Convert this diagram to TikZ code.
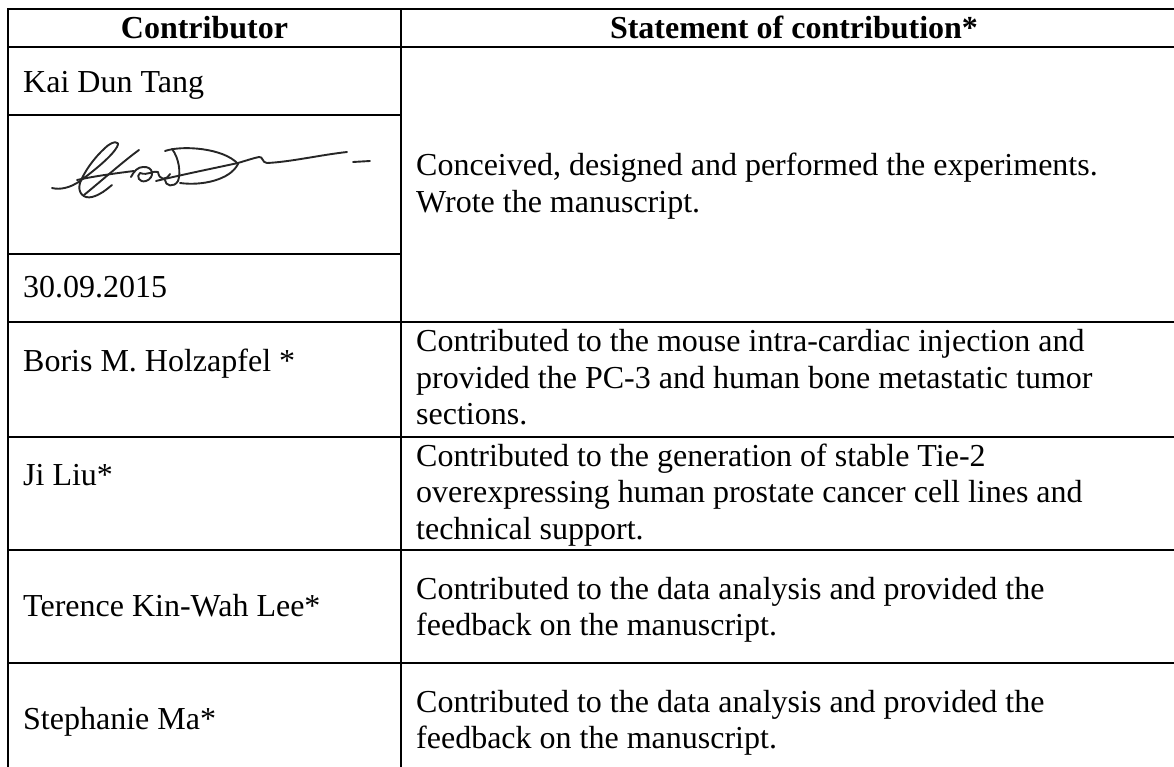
\documentclass[tikz,border=0pt]{standalone}
\usepackage{fontspec}
\setmainfont{Liberation Serif}
\begin{document}
\begin{tikzpicture}[x=1pt,y=-1pt,
  rule/.style={line width=2pt,line cap=rect},
  cell/.style={inner sep=0pt,anchor=base west,font=\fontsize{32}{36.6}\selectfont},
  head/.style={inner sep=0pt,anchor=base,font=\fontsize{32}{36.6}\selectfont\bfseries},
  pen/.style={line width=1.9pt,draw=black!85,line cap=round,line join=round}]
\useasboundingbox (0,0) rectangle (1174,767);

% grid coordinates
\coordinate (tl) at (8,9);
\coordinate (tr) at (1174,9);
\coordinate (cd) at (401,9);
\coordinate (bl) at (8,767);
\coordinate (bd) at (401,767);

% frame and column divider
\draw[rule] (tl) -- (tr);
\draw[rule] (tl) -- (bl);
\draw[rule] (cd) -- (bd);
% full-width row rules
\foreach \y/\n in {47/ha,322/ra,437/rb,550/rc,663/rd}{
  \coordinate (\n l) at (8,\y);
  \coordinate (\n r) at (1174,\y);
  \draw[rule] (\n l) -- (\n r);
}
% left-column-only rules around the signature
\foreach \y/\n in {115/sa,254/sb}{
  \coordinate (\n l) at (8,\y);
  \coordinate (\n r) at (401,\y);
  \draw[rule] (\n l) -- (\n r);
}

% header
\node[head] (h1) at (204.5,39) {Contributor};
\node[head] (h2) at (794,39) {Statement of contribution*};

% contributors
\node[cell] (n1) at (23,92.5) {Kai Dun Tang};
\node[cell] (d1) at (23,297) {30.09.2015};
\node[cell] (n2) at (23,371) {Boris M. Holzapfel *};
\node[cell] (n3) at (23,485) {Ji Liu*};
\node[cell] (n4) at (23,616) {Terence Kin-Wah Lee*};
\node[cell] (n5) at (23,729) {Stephanie Ma*};

% statements
\node[cell] (s1) at (416,175.5) {\parbox[t]{750pt}{Conceived, designed and performed the experiments.\\Wrote the manuscript.}};
\node[cell] (s2) at (416,351.7) {\parbox[t]{750pt}{Contributed to the mouse intra-cardiac injection and\\provided the PC-3 and human bone metastatic tumor\\sections.}};
\node[cell] (s3) at (416,466) {\parbox[t]{750pt}{Contributed to the generation of stable Tie-2\\overexpressing human prostate cancer cell lines and\\technical support.}};
\node[cell] (s4) at (416,599) {\parbox[t]{750pt}{Contributed to the data analysis and provided the\\feedback on the manuscript.}};
\node[cell] (s5) at (416,712) {\parbox[t]{750pt}{Contributed to the data analysis and provided the\\feedback on the manuscript.}};

% handwritten signature
\draw[pen] (52,188) .. controls (60,190) and (70,188) .. (80,181)
  .. controls (95,170) and (112,156) .. (117,147)
  .. controls (121,140) and (112,141) .. (105,148)
  .. controls (94,158) and (84,172) .. (80,183)
  .. controls (77,193) and (84,199) .. (92,197)
  .. controls (100,195) and (106,190) .. (112,185);
\draw[pen] (84,195) .. controls (100,182) and (125,160) .. (139,150);
\draw[pen] (77,180) .. controls (95,176) and (118,173) .. (134,171);
\draw[pen] (131,177) .. controls (134,171) and (138,167) .. (143,167)
  .. controls (154,166) and (155,178) .. (146,181)
  .. controls (139,183) and (136,176) .. (140,173)
  .. controls (148,176) and (154,170) .. (158,172)
  .. controls (159,180) and (166,181) .. (170,174);
\draw[pen] (172,149) .. controls (179,158) and (181,173) .. (178,181)
  .. controls (174,188) and (165,186) .. (165,180);
\draw[pen] (165,151) .. controls (182,145) and (224,148) .. (238,164)
  .. controls (230,180) and (202,186) .. (180,183);
\draw[pen] (156,181) .. controls (185,174) and (215,168) .. (238,163)
  .. controls (248,160) and (254,158) .. (259,157)
  .. controls (263,156) and (262,163) .. (267,163)
  .. controls (290,162) and (320,155) .. (347,152);
\draw[pen] (353,162) -- (370,161);
\end{tikzpicture}
\end{document}
